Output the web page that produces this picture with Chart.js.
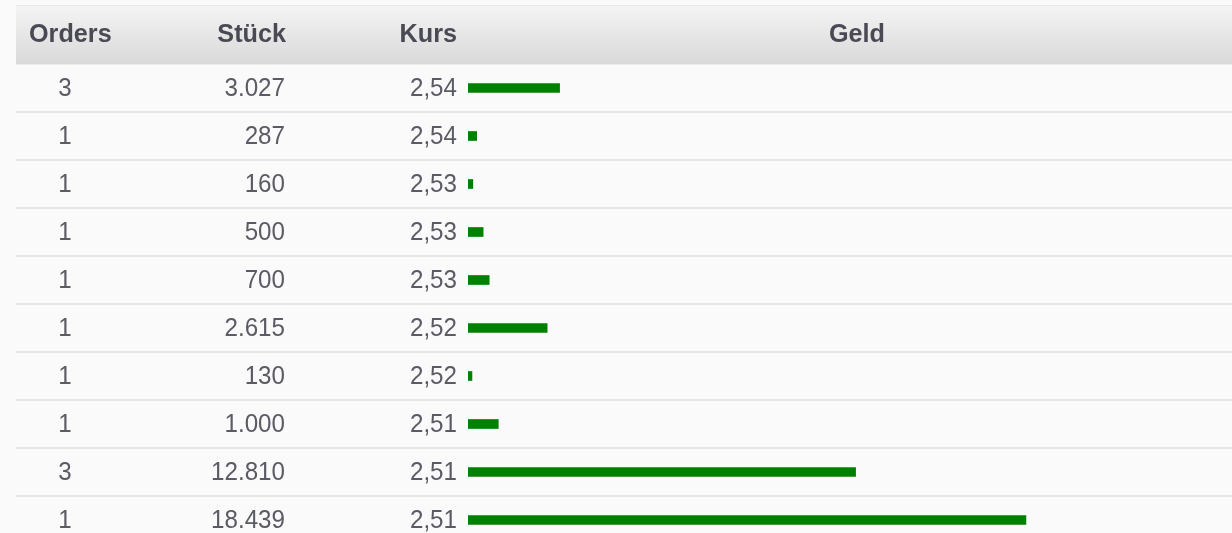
<!DOCTYPE html>
<html>
<head>
<meta charset="utf-8">
<script src="https://cdn.jsdelivr.net/npm/chart.js@4"></script>
<style>
  html, body { margin: 0; padding: 0; background: #fafafa; overflow: hidden; }
  #wrap { width: 1232px; height: 544px; position: relative; }
</style>
</head>
<body>
<div id="wrap"><canvas id="book"></canvas></div>
<script>
const headers = ['Orders', 'Stück', 'Kurs', 'Geld'];
const orders = [3, 1, 1, 1, 1, 1, 1, 1, 3, 1];
const stueck = [3027, 287, 160, 500, 700, 2615, 130, 1000, 12810, 18439];
const kurs = ['2,54', '2,54', '2,53', '2,53', '2,53', '2,52', '2,52', '2,51', '2,51', '2,51'];

// 12810 -> "12.810"
const fmt = n => String(n).replace(/\B(?=(\d{3})+(?!\d))/g, '.');

const FONT = '"Liberation Sans", Arial, sans-serif';

const text = (ctx, t, x, y, align, sx) => {
  ctx.save();
  ctx.translate(x, y);
  ctx.scale(sx, 1);
  ctx.textAlign = align;
  ctx.fillText(t, 0, 0);
  ctx.restore();
};

const tablePlugin = {
  id: 'table',
  beforeDraw(chart) {
    const { ctx, scales: { y } } = chart;
    const w = chart.width;
    ctx.save();
    // header band
    const g = ctx.createLinearGradient(0, 6, 0, 64);
    g.addColorStop(0, '#f4f4f4');
    g.addColorStop(1, '#d9d9d9');
    ctx.fillStyle = '#e9e9e9';
    ctx.fillRect(16, 5, w - 16, 1);
    ctx.fillStyle = g;
    ctx.fillRect(16, 6, w - 16, 58);
    ctx.fillStyle = '#ececec';
    ctx.fillRect(16, 64, w - 16, 1);
    // row separators
    ctx.fillStyle = '#e6e6e6';
    for (let i = 1; i < orders.length; i++) {
      const top = (y.getPixelForValue(i - 1) + y.getPixelForValue(i)) / 2;
      ctx.fillRect(16, Math.round(top) - 1, w - 16, 2);
    }
    ctx.restore();
  },
  afterDatasetsDraw(chart) {
    const { ctx, scales: { y } } = chart;
    ctx.save();
    ctx.textBaseline = 'middle';
    ctx.font = 'bold 26px ' + FONT;
    ctx.fillStyle = '#4a4a54';
    text(ctx, headers[0], 29, 35, 'left', 0.97);
    text(ctx, headers[1], 286, 35, 'right', 0.97);
    text(ctx, headers[2], 457, 35, 'right', 0.97);
    text(ctx, headers[3], 857, 35, 'center', 0.97);
    ctx.font = '26px ' + FONT;
    ctx.fillStyle = '#5a5b64';
    orders.forEach((o, i) => {
      const py = y.getPixelForValue(i) + 1;
      text(ctx, String(o), 65, py, 'center', 0.93);
      text(ctx, fmt(stueck[i]), 285, py, 'right', 0.93);
      text(ctx, kurs[i], 457, py, 'right', 0.93);
    });
    ctx.restore();
  }
};

new Chart(document.getElementById('book'), {
  type: 'bar',
  data: {
    labels: kurs,
    datasets: [{
      label: 'Geld',
      data: stueck,
      backgroundColor: '#008000',
      borderWidth: 0,
      barThickness: 9,
    }],
  },
  options: {
    indexAxis: 'y',
    responsive: true,
    maintainAspectRatio: false,
    animation: false,
    layout: { padding: { top: 64, left: 468, right: 0, bottom: 0 } },
    plugins: { legend: { display: false }, tooltip: { enabled: false } },
    scales: {
      x: { display: false, min: 0, max: 25250 },
      y: { display: false },
    },
  },
  plugins: [tablePlugin],
});
</script>
</body>
</html>
